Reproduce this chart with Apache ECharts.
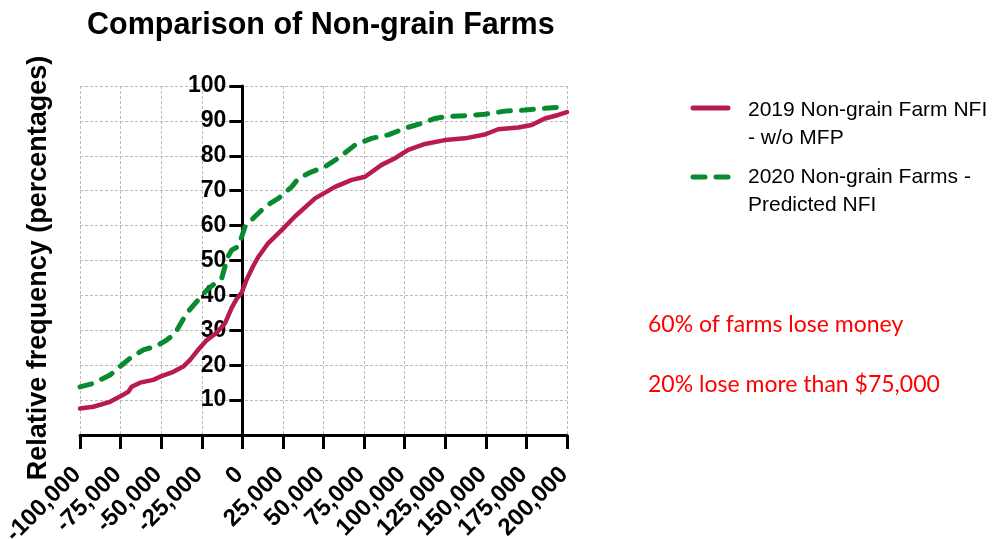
<!DOCTYPE html>
<html>
<head>
<meta charset="utf-8">
<script src="https://cdn.jsdelivr.net/npm/echarts@6/dist/echarts.min.js"></script>
<style>
  html, body { margin: 0; padding: 0; background: #fff; }
  #chart { width: 998px; height: 539px; }
</style>
</head>
<body>
<div id="chart"></div>
<script>
// net farm income (USD) vs cumulative relative frequency (%)
const farms2019X = [-100000, -91800, -81500, -75400, -70200, -68200, -63000, -54800, -50700, -42500, -36400, -32200, -28100, -21900, -15800, -10700, -6500, -3500, -400, 2600, 6800, 9800, 16000, 24200, 32400, 44800, 57100, 67400, 75600, 85800, 94000, 102200, 112500, 124800, 137100, 149400, 157600, 169900, 178200, 186400, 194600, 200000]
const farms2019Y = [7.6, 8.1, 9.5, 11.0, 12.4, 13.8, 15.0, 15.8, 16.7, 18.1, 19.6, 21.5, 23.9, 27.2, 29.3, 32.0, 36.5, 39.0, 40.8, 44.5, 48.5, 51.0, 55.0, 58.7, 62.6, 67.8, 71.1, 73.1, 74.0, 77.4, 79.3, 81.7, 83.4, 84.5, 85.0, 86.1, 87.6, 88.1, 88.8, 90.7, 91.7, 92.5]

const farms2020X = [-100000, -91800, -81500, -75400, -69200, -61000, -52800, -46600, -41500, -34300, -28100, -21900, -15800, -12700, -10700, -9600, -6500, -2500, -400, 1700, 7800, 14000, 22200, 30400, 34500, 42700, 50900, 59100, 69400, 79600, 89900, 100200, 110500, 118700, 124800, 137100, 149400, 161700, 174000, 186400, 200000]
const farms2020Y = [13.8, 14.8, 17.2, 19.6, 22.0, 24.4, 25.5, 27.2, 29.1, 34.9, 38.2, 41.5, 43.9, 44.9, 48.2, 50.5, 53.0, 54.0, 56.8, 59.7, 62.6, 65.4, 67.8, 71.1, 73.5, 75.4, 76.9, 79.3, 83.1, 85.0, 86.0, 87.9, 89.3, 90.7, 91.2, 91.5, 91.9, 92.8, 93.1, 93.6, 94.1]

const seriesNames = ['2019 Non-grain Farm NFI\n- w/o MFP', '2020 Non-grain Farms -\nPredicted NFI']
const notes = ['60% of farms lose money', '20% lose more than $75,000']

const RED = '#B71C4B'
const GREEN = '#0A8A2E'
const FONT = '"Liberation Sans", Arial, sans-serif'

const X_MIN = -100000
const X_MAX = 200000
const GRID_LEFT = 80
const GRID_RIGHT = 431
const plotWidth = 998 - GRID_LEFT - GRID_RIGHT
// y axis sits on x = 0, shift it right from the grid's left edge
const yAxisShift = (0 - X_MIN) / (X_MAX - X_MIN) * plotWidth

const chart = echarts.init(document.getElementById('chart'), null, { renderer: 'canvas' })

const zip = (xs, ys) => xs.map((x, i) => [x, ys[i]])

const option = {
  animation: false,
  grid: { left: GRID_LEFT, right: GRID_RIGHT, top: 86, bottom: 104, outerBoundsMode: 'none' },
  xAxis: {
    type: 'value',
    min: X_MIN,
    max: X_MAX,
    interval: 25000,
    axisLine: { onZero: false, lineStyle: { color: '#000', width: 3 } },
    axisTick: { show: true, length: 14, lineStyle: { color: '#000', width: 3 } },
    axisLabel: {
      rotate: 45,
      align: 'right',
      verticalAlign: 'middle',
      margin: 33,
      padding: [0, 4, 0, 0],
      color: '#000',
      fontFamily: FONT,
      fontWeight: 'bold',
      fontSize: 24,
      formatter: v => v.toLocaleString('en-US')
    },
    splitLine: { show: true, lineStyle: { color: '#bbb', width: 1, type: [3, 2] } }
  },
  yAxis: {
    type: 'value',
    min: 0,
    max: 100,
    interval: 10,
    offset: -yAxisShift,
    axisLine: { show: true, onZero: false, lineStyle: { color: '#000', width: 3 } },
    axisTick: { show: true, length: 13, lineStyle: { color: '#000', width: 3 } },
    axisLabel: {
      margin: 16,
      color: '#000',
      fontFamily: FONT,
      fontWeight: 'bold',
      fontSize: 23,
      formatter: v => (v === 0 ? '' : String(v))
    },
    splitLine: { show: true, lineStyle: { color: '#bbb', width: 1, type: [3, 2] } }
  },
  series: [
    {
      name: seriesNames[0],
      type: 'line',
      symbol: 'none',
      data: zip(farms2019X, farms2019Y),
      lineStyle: { color: RED, width: 4.5, cap: 'round', join: 'round' },
      z: 3
    },
    {
      name: seriesNames[1],
      type: 'line',
      symbol: 'none',
      data: zip(farms2020X, farms2020Y),
      lineStyle: { color: GREEN, width: 5, type: [12, 11], cap: 'round', join: 'round' },
      z: 4
    }
  ],
  graphic: [
    // title
    {
      type: 'text', left: 87, top: 10,
      style: { text: 'Comparison of Non-grain Farms', font: 'bold 30.5px ' + FONT, fill: '#000' }
    },
    // y axis name
    {
      type: 'text', x: 39, y: 268, rotation: Math.PI / 2,
      style: {
        text: 'Relative frequency (percentages)', font: 'bold 27px ' + FONT, fill: '#000',
        align: 'center', verticalAlign: 'middle'
      }
    },
    // legend
    {
      type: 'line', shape: { x1: 693, y1: 108, x2: 728, y2: 108 },
      style: { stroke: RED, lineWidth: 5, lineCap: 'round' }
    },
    {
      type: 'text', x: 748, y: 96,
      style: { text: seriesNames[0], font: '21px ' + FONT, lineHeight: 28, fill: '#000' }
    },
    {
      type: 'line', shape: { x1: 693, y1: 177, x2: 728, y2: 177 },
      style: { stroke: GREEN, lineWidth: 5, lineCap: 'round', lineDash: [12, 11] }
    },
    {
      type: 'text', x: 748, y: 163,
      style: { text: seriesNames[1], font: '21px ' + FONT, lineHeight: 28, fill: '#000' }
    },
    // notes
    {
      type: 'text', x: 648, y: 325,
      style: { text: notes[0], font: '23px Lato, ' + FONT, fill: '#ff0000', verticalAlign: 'middle' }
    },
    {
      type: 'text', x: 648, y: 385,
      style: { text: notes[1], font: '23px Lato, ' + FONT, fill: '#ff0000', verticalAlign: 'middle' }
    }
  ]
}

chart.setOption(option)
</script>
</body>
</html>
